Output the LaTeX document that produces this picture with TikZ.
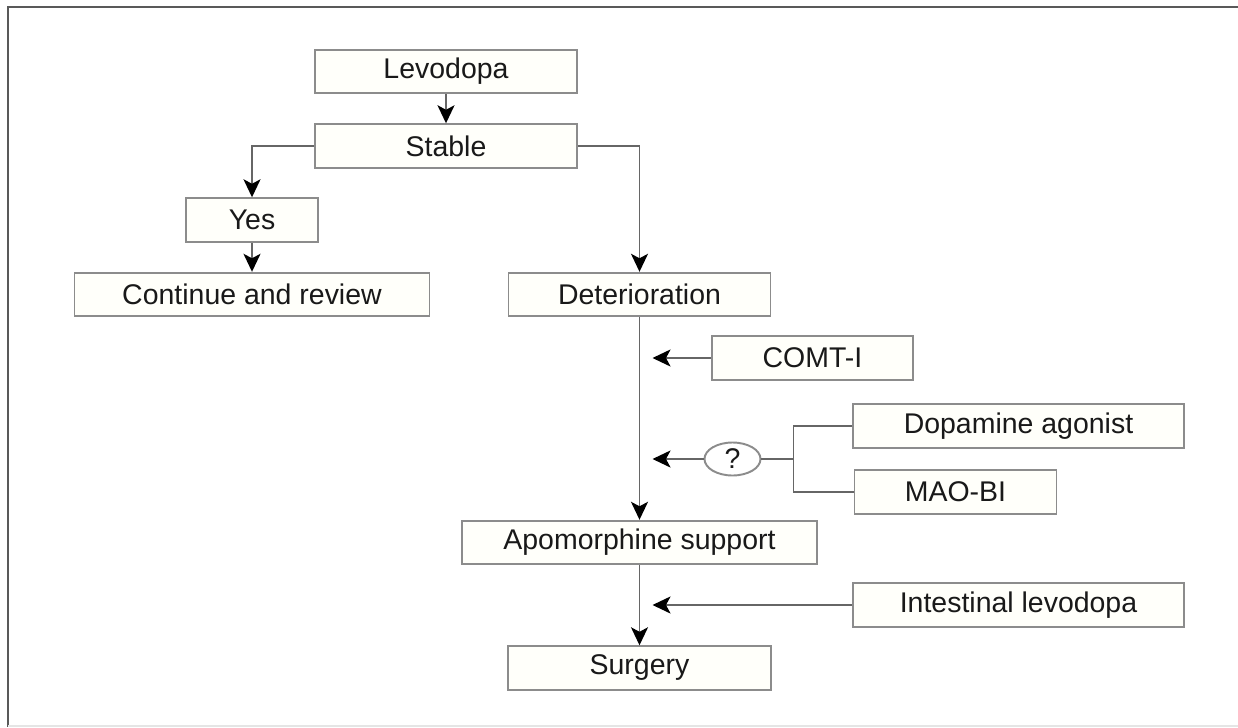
\documentclass[tikz,border=0pt]{standalone}
\usepackage{fontspec}
\setmainfont{Liberation Sans}
\usetikzlibrary{positioning,calc}
\usetikzlibrary{arrows.meta}
\usetikzlibrary{shapes.geometric}

\tikzset{box/.style={draw=black!45, line width=1.1pt, fill=white!98!yellow,
      minimum height=0.87cm, inner sep=0pt, text=black!90,
      font=\fontsize{16.2}{19}\selectfont},
   link/.style={draw=black!60, line width=1.1pt},
   arr/.style={link, -{Stealth[length=0.36cm,width=0.34cm,inset=0.09cm,black]}}}

\begin{document}
\begin{tikzpicture}[on grid]
      \useasboundingbox (0,0) rectangle (24.76,-14.54);
      \draw[black!65, line width=1.2pt] (24.76,-0.14) -- (0.16,-0.14) -- (0.16,-14.54);
      \draw[black!10, line width=0.6pt] (0.16,-14.52) -- (24.76,-14.52);

      \node[box, minimum width=5.24cm] (levo) at (8.92,-1.43) {Levodopa};
      \node[box, minimum width=5.24cm, below=1.49cm of levo] (stab) {Stable};
      \node[box, minimum width=2.64cm, below left=1.48cm and 3.88cm of stab] (yes) {Yes};
      \node[box, minimum width=7.1cm, below=1.49cm of yes] (cont) {Continue and review};
      \node[box, minimum width=5.24cm, right=7.75cm of cont] (det) {Deterioration};

      \node[box, minimum width=4.02cm, below right=1.27cm and 3.46cm of det] (comt) {COMT-I};
      \node[box, ellipse, fill=white, minimum width=1.12cm, minimum height=0.66cm,
         below right=3.29cm and 1.86cm of det] (q) {?};
      \node[box, minimum width=6.62cm, above right=0.66cm and 5.72cm of q] (dopa) {Dopamine agonist};
      \node[box, minimum width=4.04cm, below right=0.66cm and 4.46cm of q] (maob) {MAO-BI};

      \node[box, minimum width=7.1cm, below=4.96cm of det] (apo) {Apomorphine support};
      \node[box, minimum width=5.26cm, below=2.51cm of apo] (surg) {Surgery};
      \node[box, minimum width=6.62cm, above right=1.26cm and 7.58cm of surg] (intl) {Intestinal levodopa};

      \coordinate (brk) at ($(q.center)+(1.22,0)$);
      \coordinate (comtin) at ($(det.south |- comt.west)+(0.26,0)$);
      \coordinate (qin) at ($(det.south |- q.west)+(0.26,0)$);
      \coordinate (intin) at ($(apo.south |- intl.west)+(0.26,0)$);

      \draw[arr] (levo) -- (stab);
      \draw[arr] (stab.west) -| (yes.north);
      \draw[arr] (stab.east) -| (det.north);
      \draw[arr] (yes) -- (cont);
      \draw[arr] (det) -- (apo);
      \draw[arr] (apo) -- (surg);
      \draw[arr] (comt) -- (comtin);
      \draw[arr] (q) -- (qin);
      \draw[arr] (intl) -- (intin);
      \draw[link] (dopa.west) -| (brk) |- (maob.west);
      \draw[link] (q) -- (brk);
\end{tikzpicture}
\end{document}
